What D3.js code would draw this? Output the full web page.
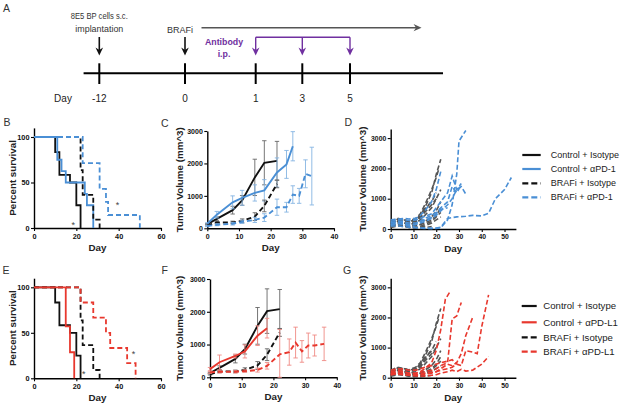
<!DOCTYPE html>
<html><head><meta charset="utf-8">
<script src="https://cdn.jsdelivr.net/npm/d3@7"></script>
<style>
body{margin:0;background:#fff}
svg{display:block}
text{font-family:"Liberation Sans",Arial,sans-serif}
</style>
</head><body>
<svg id="chart" width="624" height="409"></svg>
<script>
// ---------------- DATA ----------------
// Panel A timeline
const timelineDays = [-12, 0, 1, 3, 5];
const timelineExtent = [-14.2, 8.9];
const implantDay = -12;
const implantLabel = ["8E5 BP cells s.c.", "implantation"];
const brafiDay = 0;
const brafiLabel = "BRAFi";
const brafiArrowEnd = 8.0;
const antibodyDays = [1, 3, 5];
const antibodyLabel = ["Antibody", "i.p."];

// Survival (B, E): [day, percent]
const survCtrlIso  = [[0,100],[10,83.3],[12,58.3],[17,50],[20,25],[22,0]];
const survCtrlPD1  = [[0,100],[11,75],[13,62.5],[15,50],[24,37.5],[25,25],[28,0]];
const survBrafIso  = [[0,100],[22,63.6],[23,36.4],[28,9.1],[31,0]];
const survBrafPD1  = [[0,100],[23,71.4],[31,42.9],[34,28.6],[35,14.3],[50,0]];
const survCtrlPDL1 = [[0,100],[15,57.1],[17,28.6],[19,0]];
const survBrafPDL1 = [[0,100],[22,83.3],[28,66.7],[34,50],[36,33.3],[44,16.7],[48,0]];
const starsB = [[18.5,4],[39.5,26]];
const starsE = [[23.5,6],[47,28]];

// Mean tumour volume ± error (C, F)
const growthDaysCtrlIso = [0,3,8,11,15,18,22];
const growthCtrlIso     = [130,290,560,860,1570,2020,2080];
const errCtrlIso        = [20,60,120,150,560,680,600];
const growthDaysCtrlPD1 = [0,3,8,11,15,18,22,25,27];
const growthCtrlPD1     = [140,420,800,940,1090,1170,1720,1970,2530];
const errCtrlPD1        = [30,100,200,230,250,330,450,430,450];
const growthDaysBrafIso = [0,3,8,11,15,18,22];
const growthBrafIso     = [90,180,180,230,360,690,1370];
const errBrafIso        = [20,40,40,60,120,180,120];
const growthDaysBrafPD1 = [0,3,8,11,15,18,22,25,27,29,31,33];
const growthBrafPD1     = [70,110,140,200,260,330,650,650,1040,1000,1680,1610];
const errBrafPD1        = [20,30,40,50,80,120,250,150,270,230,430,890];
const growthDaysCtrlPDL1 = [0,3,8,11,15,18];
const growthCtrlPDL1     = [250,460,650,790,1270,1500];
const errCtrlPDL1        = [50,220,60,200,300,300];
const growthDaysBrafPDL1 = [0,3,8,11,15,18,22,25,27,29,31,33,36];
const growthBrafPDL1     = [150,170,170,190,220,350,700,770,1060,790,970,970,1020];
const errBrafPDL1        = [30,40,40,40,60,100,760,400,470,330,380,320,510];

// Individual mice (D, G)
const miceBrafIso = [
  {days:[0,3,6,8,11,13,15,18,20,22], vols:[150,330,300,250,300,450,700,1200,1800,2300]},
  {days:[0,3,6,8,11,13,15,18,20,21], vols:[200,300,280,260,350,500,800,1300,1700,1950]},
  {days:[0,3,6,8,11,13,15,18,20,22], vols:[100,250,200,150,200,300,450,700,1000,1300]},
  {days:[0,3,6,8,11,13,15,18,20],    vols:[250,350,300,250,300,450,650,900,1200]},
  {days:[0,3,6,8,11,13,15,18],       vols:[200,300,250,200,250,400,600,950]},
  {days:[0,3,6,8,11,13,15,18,20,22], vols:[100,200,150,100,100,150,250,400,600,900]},
  {days:[0,3,6,8,11,13,15,18,20,22], vols:[150,250,200,150,120,150,200,300,450,700]},
  {days:[0,3,6,8,11,13,15,18,20,22], vols:[80,150,100,80,60,80,150,250,400,550]},
  {days:[0,3,6,8,11,13,15,18,20],    vols:[200,280,250,200,250,350,550,800,1000]},
  {days:[0,3,6,8,11,13,15,18],       vols:[100,150,100,50,30,20,40,80]},
  {days:[0,3,6,8,11,13,15,18,20,22], vols:[50,100,80,50,40,50,100,200,300,400]}
];
const miceBrafPD1 = [
  {days:[0,3,6,8,11,13,15,18,20,22,25,27,29,30,33], vols:[150,200,150,100,60,40,30,20,20,40,300,800,1800,2900,3250]},
  {days:[0,3,6,8,11,13,15,18,20,22,25,27,29,31], vols:[250,300,300,280,300,350,420,500,700,900,1200,1750,1300,1500]},
  {days:[0,3,6,8,11,13,15,18,20,22,25,27,29,31,33], vols:[200,250,200,150,150,200,250,350,450,600,800,1000,1300,1400,1150]},
  {days:[0,3,6,8,11,13,15,18,20,22,25,29,33,36,40,43,46,50,53], vols:[100,100,80,60,40,30,20,20,30,60,350,400,420,450,430,520,1000,1300,1700]},
  {days:[0,3,6,8,11,13,15,18,20,22], vols:[300,330,350,330,350,450,600,900,1300,1900]},
  {days:[0,3,6,8,11,13,15,18,20,22,25,27,29,31], vols:[200,250,230,200,200,250,300,380,500,700,900,1400,1200,1450]},
  {days:[0,3,6,8,11,13,15,18,20,22,25], vols:[120,180,150,120,150,250,350,450,550,650,700]}
];
const miceBrafPDL1 = [
  {days:[0,3,6,8,11,13,15,18,20,22,24,26], vols:[150,200,180,150,150,200,300,500,900,1600,2600,2850]},
  {days:[0,3,6,8,11,13,15,18,20,22,25,27,29,31], vols:[200,250,200,150,150,180,200,250,300,400,500,1950,2050,2500]},
  {days:[0,3,6,8,11,13,15,18,20,22,25,27,29,31,33,36], vols:[100,150,100,100,80,100,120,150,200,300,450,400,500,800,1400,2000]},
  {days:[0,3,6,8,11,13,15,18,20,22,25,27,29,31,33,36,38,40,43], vols:[150,150,120,100,100,120,150,180,200,250,300,350,450,400,900,850,800,1700,2750]},
  {days:[0,3,6,8,11,13,15,18,20,22,25,27,29,31,33,36,38,40,43], vols:[100,120,100,80,60,50,60,80,100,150,200,250,200,280,220,250,350,450,700]},
  {days:[0,3,6,8,11,13,15,18,20,22,25,27,29], vols:[250,300,280,250,250,300,350,400,450,500,550,600,450]}
];

// Tick labels
const survTicksY = [0,50,100];
const survTicksX = [0,20,40,60];
const volTicksY = [0,1000,2000,3000];
const volTicksXcf = [0,10,20,30,40];
const volTicksXdg = [0,10,20,30,40,50];

const legend1 = ["Control + Isotype","Control + \u03b1PD-1","BRAFi + Isotype","BRAFi + \u03b1PD-1"];
const legend2 = ["Control + Isotype","Control + \u03b1PD-L1","BRAFi + Isotype","BRAFi + \u03b1PD-L1"];

// ---------------- STYLE ----------------
const BLACK = "#111", BLUE = "#4a8fd5", RED = "#e8382e", GRAY = "#555", PURPLE = "#7030a0";
const LBLUE = "#86b4e2", LRED = "#ef8a84", LGRAY = "#666";
const DASH = "5,3";

const svg = d3.select("#chart");

// ---------------- PANEL A ----------------
const tx = d3.scaleLinear().domain(timelineDays).range([99.3,185,255.7,302.3,350]);
const gA = svg.append("g");
const TLY = 73.3;
gA.append("line").attr("x1",tx(timelineExtent[0])).attr("x2",tx(timelineExtent[1]))
  .attr("y1",TLY).attr("y2",TLY).attr("stroke","#000").attr("stroke-width",2);
gA.selectAll(".tk").data(timelineDays).join("line")
  .attr("x1",d=>tx(d)).attr("x2",d=>tx(d)).attr("y1",63.3).attr("y2",84)
  .attr("stroke","#000").attr("stroke-width",2);
gA.selectAll(".tl").data(timelineDays).join("text")
  .attr("x",d=>tx(d)).attr("y",102).attr("text-anchor","middle")
  .attr("font-size",10).attr("fill","#222").text(d=>d);
gA.append("text").attr("x",63).attr("y",102).attr("text-anchor","middle")
  .attr("font-size",10).attr("fill","#222").text("Day");

function arrowDown(g, x, y1, y2, color, w){
  g.append("line").attr("x1",x).attr("x2",x).attr("y1",y1).attr("y2",y2-5)
    .attr("stroke",color).attr("stroke-width",w);
  g.append("path").attr("d",`M${x-3.8},${y2-8}L${x},${y2}L${x+3.8},${y2-8}L${x},${y2-5.5}Z`)
    .attr("fill",color);
}
arrowDown(gA, tx(implantDay), 37, 55.5, "#111", 1.6);
arrowDown(gA, tx(brafiDay), 37, 55.5, "#111", 1.6);
gA.selectAll(".il").data(implantLabel).join("text")
  .attr("x",tx(implantDay)).attr("y",(d,i)=>19+i*13.2).attr("text-anchor","middle")
  .attr("font-size",9).attr("fill","#333").attr("textLength",(d,i)=>i?48:57)
  .attr("lengthAdjust","spacingAndGlyphs").text(d=>d);
gA.append("text").attr("x",tx(brafiDay)-5).attr("y",32.8).attr("text-anchor","middle")
  .attr("font-size",9).attr("fill","#333").text(brafiLabel);
// BRAFi continuous arrow
const gxs = tx(brafiDay)+16.5, gxe = tx(brafiArrowEnd);
gA.append("line").attr("x1",gxs).attr("x2",gxe-5).attr("y1",27.7).attr("y2",27.7)
  .attr("stroke","#555").attr("stroke-width",1.6);
gA.append("path").attr("d",`M${gxe-8},${27.7-3.6}L${gxe},27.7L${gxe-8},${27.7+3.6}L${gxe-5.5},27.7Z`).attr("fill","#555");
// antibody
gA.append("line").attr("x1",tx(antibodyDays[0])).attr("x2",tx(antibodyDays[antibodyDays.length-1]))
  .attr("y1",37.3).attr("y2",37.3).attr("stroke",PURPLE).attr("stroke-width",1.4);
antibodyDays.forEach(d=>arrowDown(gA, tx(d), 37.3, 55.5, PURPLE, 1.4));
gA.selectAll(".ab").data(antibodyLabel).join("text")
  .attr("x",224).attr("y",(d,i)=>45.3+i*11.5).attr("text-anchor","middle")
  .attr("font-size",8.8).attr("font-weight","bold").attr("fill",PURPLE).text(d=>d);

// ---------------- helpers ----------------
function letter(t,x,y){
  svg.append("text").attr("x",x).attr("y",y).attr("font-family","'Open Sans',sans-serif")
    .attr("font-size",10.5).attr("fill","#333").text(t);
}
letter("A",3,11.8); letter("B",3.5,125.8); letter("C",161,126.8); letter("D",344.5,125.8);
letter("E",2.5,274); letter("F",161.5,274); letter("G",343,273.5);

function makeAxes(cfg){
  const x = d3.scaleLinear().domain(cfg.xd).range(cfg.xr);
  const y = d3.scaleLinear().domain(cfg.yd).range(cfg.yr);
  const g = svg.append("g");
  const ax = g.append("g").attr("transform",`translate(0,${cfg.yr[0]})`)
    .call(d3.axisBottom(x).tickValues(cfg.xt).tickFormat(d3.format("d")).tickSize(3).tickSizeOuter(0).tickPadding(2.5));
  const ay = g.append("g").attr("transform",`translate(${cfg.xr[0]},0)`)
    .call(d3.axisLeft(y).tickValues(cfg.yt).tickFormat(d3.format("d")).tickSize(3).tickSizeOuter(0).tickPadding(1.5));
  [ax,ay].forEach(a=>{
    a.select(".domain").attr("stroke","#000").attr("stroke-width",1.4);
    a.selectAll(".tick line").attr("stroke","#000").attr("stroke-width",1.1);
    a.selectAll(".tick text").attr("font-family","'Liberation Sans',Arial,sans-serif")
      .attr("font-size",cfg.tf).attr("font-weight","bold").attr("fill","#111");
  });
  g.append("text").attr("x",(cfg.xr[0]+cfg.xr[1])/2).attr("y",cfg.yr[0]+22.8)
    .attr("text-anchor","middle").attr("font-size",9.8).attr("font-weight","bold").attr("fill","#222").text("Day");
  g.append("text").attr("transform",`translate(${cfg.ytx},${(cfg.yr[0]+cfg.yr[1])/2}) rotate(-90)`)
    .attr("text-anchor","middle").attr("dy","0.35em").attr("font-size",cfg.ytf).attr("font-weight","bold")
    .attr("fill","#222").text(cfg.ytitle);
  return {x,y,g};
}

function survPanel(cfg, series, stars){
  const {x,y,g} = makeAxes(cfg);
  const line = d3.line().x(d=>x(d[0])).y(d=>y(d[1])).curve(d3.curveStepAfter);
  series.forEach(s=>{
    g.append("path").datum(s.data).attr("d",line).attr("fill","none")
      .attr("stroke",s.color).attr("stroke-width",1.8).attr("stroke-dasharray",s.dash?DASH:null);
  });
  g.selectAll(".st").data(stars).join("text").attr("x",d=>x(d[0])).attr("y",d=>y(d[1])+4)
    .attr("text-anchor","middle").attr("font-size",9).attr("fill","#444").text("*");
}

function growthPanel(cfg, series){
  const {x,y,g} = makeAxes(cfg);
  const line = d3.line().x(d=>x(d.day)).y(d=>y(d.v));
  series.forEach(s=>{
    const pts = s.days.map((d,i)=>({day:d, v:s.vals[i], e:s.err[i]}));
    const eb = g.append("g");
    pts.forEach(p=>{
      const y1 = y(Math.max(0,p.v-p.e)), y2 = y(p.v+p.e), xx = x(p.day);
      eb.append("line").attr("x1",xx).attr("x2",xx).attr("y1",y1).attr("y2",y2)
        .attr("stroke",s.ecolor).attr("stroke-width",0.9);
      [y1,y2].forEach(yy=>eb.append("line").attr("x1",xx-2.2).attr("x2",xx+2.2)
        .attr("y1",yy).attr("y2",yy).attr("stroke",s.ecolor).attr("stroke-width",0.9));
    });
    g.append("path").datum(pts).attr("d",line).attr("fill","none").attr("stroke",s.color)
      .attr("stroke-width",1.9).attr("stroke-dasharray",s.dash?DASH:null);
  });
}

function micePanel(cfg, groups){
  const {x,y,g} = makeAxes(cfg);
  const line = d3.line().x(d=>x(d[0])).y(d=>y(d[1]));
  groups.forEach(gr=>{
    gr.mice.forEach(m=>{
      g.append("path").datum(m.days.map((d,i)=>[d,m.vols[i]])).attr("d",line)
        .attr("fill","none").attr("stroke",gr.color).attr("stroke-width",1.6)
        .attr("stroke-dasharray","5,2.5");
    });
  });
}

// ---------------- PANELS ----------------
survPanel({xd:[0,60],xr:[34,161],yd:[0,110],yr:[228,127.9],xt:survTicksX,yt:survTicksY,tf:7.3,
  ytx:13,ytf:9.8,ytitle:"Percent survival"},
  [{data:survCtrlIso,color:BLACK},{data:survCtrlPD1,color:BLUE},
   {data:survBrafIso,color:BLACK,dash:1},{data:survBrafPD1,color:BLUE,dash:1}], starsB);

survPanel({xd:[0,60],xr:[34,161],yd:[0,110],yr:[378.3,278.2],xt:survTicksX,yt:survTicksY,tf:7.3,
  ytx:13,ytf:9.8,ytitle:"Percent survival"},
  [{data:survCtrlIso,color:BLACK},{data:survCtrlPDL1,color:RED},
   {data:survBrafIso,color:BLACK,dash:1},{data:survBrafPDL1,color:RED,dash:1}], starsE);

growthPanel({xd:[0,40],xr:[207.3,334],yd:[0,3000],yr:[228.3,131],xt:volTicksXcf,yt:volTicksY,tf:7,
  ytx:179.3,ytf:9.8,ytitle:"Tumor  Volume (mm^3)"},
  [{days:growthDaysCtrlIso,vals:growthCtrlIso,err:errCtrlIso,color:BLACK,ecolor:LGRAY},
   {days:growthDaysCtrlPD1,vals:growthCtrlPD1,err:errCtrlPD1,color:BLUE,ecolor:LBLUE},
   {days:growthDaysBrafIso,vals:growthBrafIso,err:errBrafIso,color:BLACK,ecolor:LGRAY,dash:1},
   {days:growthDaysBrafPD1,vals:growthBrafPD1,err:errBrafPD1,color:BLUE,ecolor:LBLUE,dash:1}]);

growthPanel({xd:[0,40],xr:[210,336.8],yd:[0,3000],yr:[377.3,279],xt:volTicksXcf,yt:volTicksY,tf:7,
  ytx:179.3,ytf:9.8,ytitle:"Tumor  Volume (mm^3)"},
  [{days:growthDaysCtrlIso,vals:growthCtrlIso,err:errCtrlIso,color:BLACK,ecolor:LGRAY},
   {days:growthDaysCtrlPDL1,vals:growthCtrlPDL1,err:errCtrlPDL1,color:RED,ecolor:LRED},
   {days:growthDaysBrafIso,vals:growthBrafIso,err:errBrafIso,color:BLACK,ecolor:LGRAY,dash:1},
   {days:growthDaysBrafPDL1,vals:growthBrafPDL1,err:errBrafPDL1,color:RED,ecolor:LRED,dash:1}]);

micePanel({xd:[0,55],xr:[390.7,515.9],yd:[0,3300],yr:[229,129],xt:volTicksXdg,yt:volTicksY,tf:6.8,
  ytx:362.7,ytf:9.8,ytitle:"Tumor  Volume (mm^3)"},
  [{mice:miceBrafIso,color:GRAY},{mice:miceBrafPD1,color:BLUE}]);

micePanel({xd:[0,55],xr:[390.7,515.9],yd:[0,3300],yr:[377.7,278.3],xt:volTicksXdg,yt:volTicksY,tf:6.8,
  ytx:362.7,ytf:9.8,ytitle:"Tumor  Volume (mm^3)"},
  [{mice:miceBrafIso,color:GRAY},{mice:miceBrafPDL1,color:RED}]);

// ---------------- LEGENDS ----------------
function legend(labels, colors, dashes, x1, x2, tx0, ys, fs){
  const g = svg.append("g");
  labels.forEach((l,i)=>{
    g.append("line").attr("x1",x1).attr("x2",x2).attr("y1",ys[i]).attr("y2",ys[i])
      .attr("stroke",colors[i]).attr("stroke-width",2.2).attr("stroke-dasharray",dashes[i]?"6,3":null);
    g.append("text").attr("x",tx0).attr("y",ys[i]).attr("dy","0.35em").attr("font-size",fs)
      .attr("fill","#222").text(l);
  });
}
legend(legend1,[BLACK,BLUE,BLACK,BLUE],[0,0,1,1],522.3,540.7,550.7,[155,169,183.3,197.3],9);
legend(legend2,[BLACK,RED,BLACK,RED],[0,0,1,1],521.7,536.7,543.3,[306,322.3,337.3,351.7],9.6);
</script>
</body></html>
